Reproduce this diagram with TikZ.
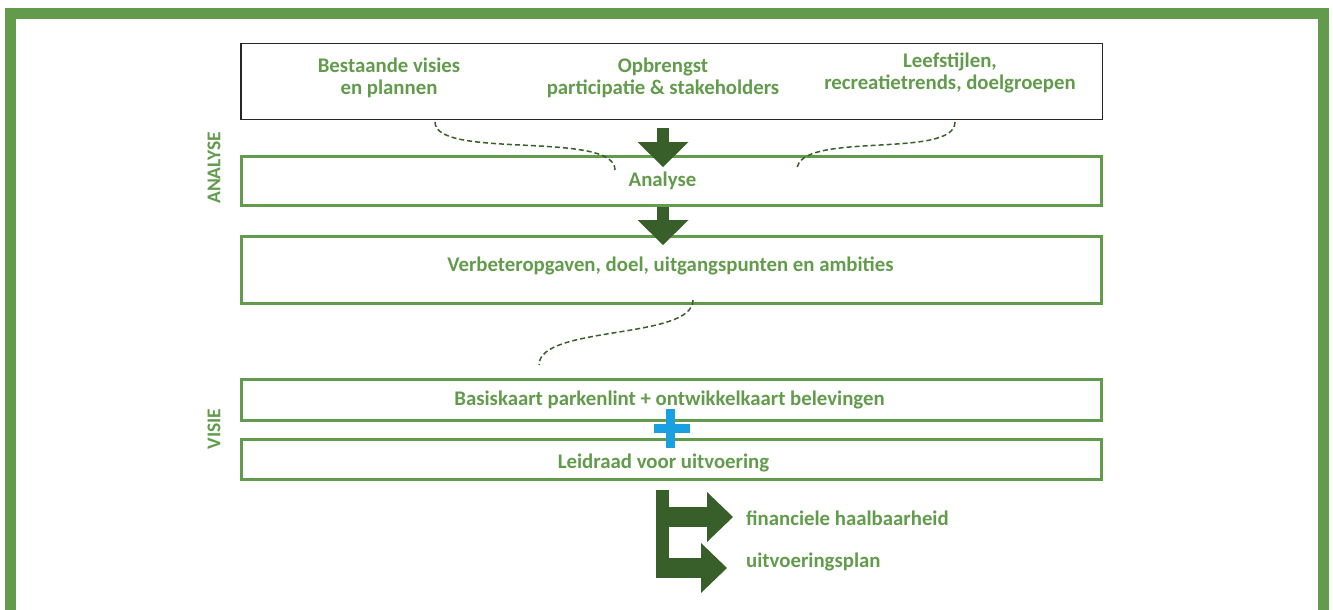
\documentclass[tikz,border=0pt]{standalone}
\usepackage{fontspec}
\setmainfont{Carlito}
\usetikzlibrary{positioning,calc,arrows.meta}
\definecolor{lgreen}{RGB}{98,155,76}
\definecolor{dgreen}{RGB}{56,94,42}
\definecolor{pblue}{RGB}{26,160,224}
\def\lbl{\fontsize{20.8}{21.5}\selectfont\bfseries}
\def\fase{\fontsize{19.5}{20}\selectfont\bfseries}

\begin{document}
\begin{tikzpicture}[x=1pt,y=-1pt,on grid,
	greenbox/.style={draw=lgreen,line width=3pt,minimum width=860pt,inner sep=0pt},
	topbox/.style={draw=black!85,line width=1.5pt,minimum width=861.5pt,minimum height=75.5pt},
	lbl/.style={text=lgreen,font=\lbl,align=center,inner sep=0pt},
	downarrow/.style={draw=dgreen,line width=12pt,-{Triangle[width=51pt,length=25pt,line width=0pt]}},
	branch/.style={draw=dgreen,line width=20pt,-{Triangle[width=50pt,length=26pt,line width=0pt]}},
	curl/.style={draw=dgreen,line width=1.5pt,dash pattern=on 5pt off 3pt}]
\useasboundingbox (0,0) rectangle (1333,610);
\draw[lgreen,line width=11pt] (10.5,13.5) rectangle (1323.5,640);

% boxes
\node[topbox]							(top)		at (671.5,81.5)						{};
\node[greenbox,minimum height=49pt,label={[lbl,xshift=-9pt]center:Analyse}]
										(analyse)	[below=99.5pt of top]				{};
\node[greenbox,minimum height=67pt,label={[lbl,xshift=-1pt,yshift=4pt]center:Verbeteropgaven, doel, uitgangspunten en ambities}]
										(verbeter)	[below=89pt of analyse]				{};
\node[greenbox,minimum height=41pt,label={[lbl,xshift=-2pt]center:Basiskaart parkenlint + ontwikkelkaart belevingen}]
										(basis)		[below=130pt of verbeter]			{};
\node[greenbox,minimum height=40pt,label={[lbl,xshift=-8pt,yshift=-3pt]center:Leidraad voor uitvoering}]
										(leidraad)	[below=59.5pt of basis]				{};

% inputs
\node[lbl]								(opbrengst)	at (663,78)							{Opbrengst\\participatie \& stakeholders};
\node[lbl]								(visies)	[left=274pt of opbrengst]			{Bestaande visies\\en plannen};
\node[lbl]								(leefstijl)	at (950,73)							{Leefstijlen,\\recreatietrends, doelgroepen};

% phases
\node[lbl,font=\fase,rotate=90]			(fase1)		at (214,168)						{ANALYSE};
\node[lbl,font=\fase,rotate=90]			(fase2)		at (214,429)						{VISIE};

% outputs
\coordinate								(ax)		at (663,0);
\coordinate								(ltop)		at (662.5,490);
\coordinate								(lbot)		at (662.5,578);
\coordinate								(tip1)		at (733,517);
\coordinate								(tip2)		at (727,568);
\node[lbl,anchor=west]					(fin)		at ($(tip1)+(13,1)$)				{financiele haalbaarheid};
\node[lbl,anchor=west]					(uitv)		at ($(tip1)+(13,45)$)				{uitvoeringsplan};

\draw[downarrow] ($(top.south -| ax)+(0,8)$) -- ($(analyse.north -| ax)+(0,12)$);
\draw[downarrow] ($(analyse.south -| ax)+(0,0)$) -- ($(verbeter.north -| ax)+(0,10)$);

\draw[curl] (435,122) .. controls (435,160) and (615,130) .. (615,170);
\draw[curl] (955,122) .. controls (955,160) and (797,130) .. (797,170);
\draw[curl] (693,300) .. controls (693,340) and (539,325) .. (539,365);

\coordinate (plusc) at ($(basis.south)!0.5!(leidraad.north)$);
\draw[pblue,line width=9pt] ($(plusc)+(-18,-2)$) -- ($(plusc)+(18,-2)$);
\draw[pblue,line width=9pt] ($(plusc)+(-1.5,-21)$) -- ($(plusc)+(-1.5,18)$);

\draw[dgreen,line width=13pt] (ltop) -- (lbot);
\draw[branch] (ltop |- tip1) -- (tip1);
\draw[branch] ($(lbot)+(-6.5,-10)$) -- (tip2);
\end{tikzpicture}
\end{document}
